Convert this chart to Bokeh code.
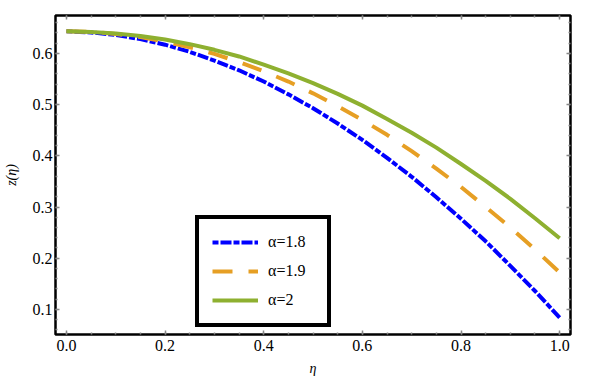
import numpy as np
from bokeh.plotting import figure
from bokeh.models import Range1d, LinearAxis, FixedTicker, Legend, LegendItem, NumeralTickFormatter
from bokeh.embed import file_html
from bokeh.resources import INLINE

eta = [0.0, 0.05, 0.1, 0.15, 0.2, 0.25, 0.3, 0.35, 0.4, 0.45, 0.5,
       0.55, 0.6, 0.65, 0.7, 0.75, 0.8, 0.85, 0.9, 0.95, 1.0]
z_a18 = [0.643, 0.641, 0.636, 0.628, 0.617, 0.603, 0.586, 0.567, 0.545, 0.520, 0.493,
         0.463, 0.431, 0.396, 0.359, 0.319, 0.277, 0.233, 0.185, 0.136, 0.084]
z_a19 = [0.643, 0.642, 0.638, 0.632, 0.623, 0.612, 0.599, 0.583, 0.565, 0.545, 0.522,
         0.497, 0.470, 0.441, 0.409, 0.375, 0.339, 0.300, 0.260, 0.217, 0.172]
z_a20 = [0.643, 0.642, 0.639, 0.634, 0.627, 0.618, 0.607, 0.594, 0.578, 0.561, 0.542,
         0.521, 0.498, 0.472, 0.445, 0.416, 0.384, 0.351, 0.316, 0.278, 0.239]
labels = ["\u03b1=1.8", "\u03b1=1.9", "\u03b1=2"]
x_ticks = [0.0, 0.2, 0.4, 0.6, 0.8, 1.0]
y_ticks = [0.1, 0.2, 0.3, 0.4, 0.5, 0.6]

FONT = "'Liberation Serif', 'Times New Roman', serif"

p = figure(width=591, height=389, output_backend="svg", toolbar_location=None,
           x_range=Range1d(-0.0222, 1.022), y_range=Range1d(0.051, 0.674),
           min_border_left=53, min_border_right=21, min_border_top=15, min_border_bottom=55)
p.grid.visible = False
p.outline_line_color = "black"
p.outline_line_width = 2.5
p.outline_line_alpha = 1
p.background_fill_color = "white"
p.border_fill_color = "white"

r1 = p.line(eta, z_a18, line_color="#0000FF", line_width=4, line_dash="6 2 11 2")
r2 = p.line(eta, z_a19, line_color="#E69F24", line_width=4, line_dash="20 16")
r3 = p.line(eta, z_a20, line_color="#8EB030", line_width=4)

x_minor = [round(v, 3) for v in np.arange(0.0, 1.0001, 0.05)]
y_minor = [round(v, 3) for v in np.arange(0.06, 0.6801, 0.02)]
xt = FixedTicker(ticks=x_ticks, minor_ticks=x_minor)
yt = FixedTicker(ticks=y_ticks, minor_ticks=y_minor)

bottom = p.below[0]
left = p.left[0]
bottom.ticker = xt
left.ticker = yt
bottom.formatter = NumeralTickFormatter(format="0.0")
left.formatter = NumeralTickFormatter(format="0.0")

top = LinearAxis(ticker=xt)
right = LinearAxis(ticker=yt)
top.major_label_overrides = {t: "" for t in x_ticks}
right.major_label_overrides = {t: "" for t in y_ticks}
p.add_layout(top, "above")
p.add_layout(right, "right")

for ax in [bottom, left, top, right]:
    ax.axis_line_color = None
    ax.major_tick_in = 4
    ax.major_tick_out = 0
    ax.minor_tick_in = 2
    ax.minor_tick_out = 0
    ax.major_tick_line_color = "#888888"
    ax.minor_tick_line_color = "#888888"
    ax.major_tick_line_width = 1.5
    ax.minor_tick_line_width = 1.5
    ax.major_label_text_font = FONT
    ax.major_label_text_font_size = "16px"
    ax.major_label_text_color = "black"

for ax in [top, right]:
    ax.major_label_standoff = 0

bottom.axis_label = "\u03b7"
left.axis_label = "z(\u03b7)"
for ax in [bottom, left]:
    ax.axis_label_text_font = FONT
    ax.axis_label_text_font_size = "14px"
    ax.axis_label_text_font_style = "italic"
    ax.axis_label_text_color = "black"
bottom.major_label_standoff = 5
left.major_label_standoff = 3
bottom.axis_label_standoff = 7
left.axis_label_standoff = 11

legend = Legend(items=[LegendItem(label=labels[0], renderers=[r1]),
                       LegendItem(label=labels[1], renderers=[r2]),
                       LegendItem(label=labels[2], renderers=[r3])],
                location=(140, 7))
legend.border_line_color = "black"
legend.border_line_alpha = 1
legend.border_line_width = 4
legend.background_fill_color = "white"
legend.background_fill_alpha = 1
legend.label_text_font = FONT
legend.label_text_font_size = "16px"
legend.label_text_color = "black"
legend.glyph_width = 46
legend.glyph_height = 20
legend.spacing = 9
legend.padding = 13
legend.label_standoff = 10
legend.label_width = 46
legend.margin = 0
p.add_layout(legend, "center")

open("out.html", "w").write(file_html(p, INLINE))
